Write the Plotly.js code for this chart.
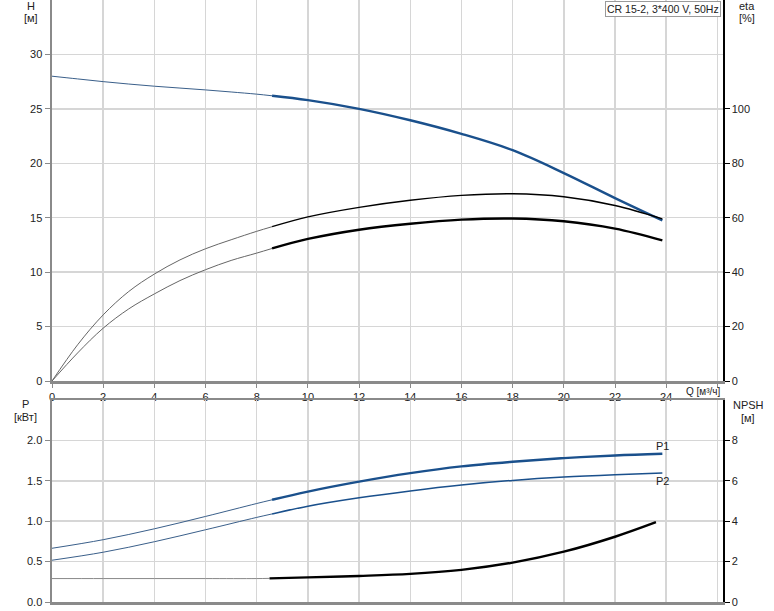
<!DOCTYPE html>
<html>
<head>
<meta charset="utf-8">
<script src="https://cdn.plot.ly/plotly-3.0.1.min.js"></script>
<style>html,body{margin:0;padding:0;background:#fff}#chart{width:774px;height:611px}</style>
</head>
<body>
<div id="chart"></div>
<script>
// ---- data ----
const qTop = [0, 1, 2, 3, 4, 5, 6, 7, 8, 8.6, 10, 12, 14, 16, 18, 20, 22, 23.85];
const headH = [28.0, 27.75, 27.5, 27.28, 27.08, 26.91, 26.74, 26.55, 26.35, 26.2, 25.8, 25.0, 23.95, 22.7, 21.2, 19.1, 16.8, 14.75];
const eta1 = [0, 13.3, 24.3, 32.9, 39.3, 44.5, 48.6, 51.9, 55.0, 56.7, 60.3, 63.8, 66.4, 68.2, 68.8, 67.7, 64.5, 59.6];
const eta2 = [0, 10.3, 19.4, 26.5, 32.0, 36.9, 40.9, 44.3, 47.0, 48.7, 52.2, 55.6, 57.8, 59.3, 59.7, 58.7, 56.0, 51.7];

const qPow = [0, 2, 4, 6, 8, 8.6, 10, 12, 14, 16, 18, 20, 22, 23.85];
const powP1 = [0.665, 0.771, 0.906, 1.059, 1.219, 1.265, 1.367, 1.49, 1.595, 1.679, 1.736, 1.781, 1.814, 1.835];
const powP2 = [0.517, 0.616, 0.746, 0.894, 1.047, 1.09, 1.186, 1.29, 1.375, 1.448, 1.505, 1.547, 1.576, 1.596];

const qNpsh = [0, 2, 4, 6, 8, 8.5, 10, 12, 14, 16, 18, 20, 22, 23.6];
const npsh = [1.16, 1.16, 1.16, 1.16, 1.16, 1.17, 1.22, 1.29, 1.39, 1.59, 1.95, 2.49, 3.23, 3.95];

const xTicks = [0, 2, 4, 6, 8, 10, 12, 14, 16, 18, 20, 22, 24, 26];
const xTickText = ['0','2','4','6','8','10','12','14','16','18','20','22','24',''];
const hTicks = [0, 5, 10, 15, 20, 25, 30];
const etaTicks = [0, 20, 40, 60, 80, 100];
const pTicks = [0, 0.5, 1.0, 1.5, 2.0];
const npshTicks = [0, 2, 4, 6, 8];
const chartTitle = 'CR 15-2, 3*400 V, 50Hz';

// ---- helpers ----
function seg(xs, ys, lo, hi) {
  const x = [], y = [];
  xs.forEach((v, i) => { if (v >= lo && v <= hi) { x.push(v); y.push(ys[i]); } });
  return {x, y};
}
function line(xs, ys, lo, hi, color, width, xa, ya) {
  const s = seg(xs, ys, lo, hi);
  return {x: s.x, y: s.y, xaxis: xa, yaxis: ya, mode: 'lines', type: 'scatter',
    line: {color: color, width: width, shape: 'spline', smoothing: 1.0}, hoverinfo: 'skip', showlegend: false};
}
const BLUE = '#1a508c', THINBLUE = '#3a5f8a', BLACK = '#000000', THIN = '#666666';
const traces = [
  line(qTop, headH, 0, 8.6, THINBLUE, 1, 'x', 'y'),
  line(qTop, headH, 8.6, 30, BLUE, 2.4, 'x', 'y'),
  line(qTop, eta1, 0, 8.6, THIN, 1, 'x', 'y2'),
  line(qTop, eta1, 8.6, 30, BLACK, 1.4, 'x', 'y2'),
  line(qTop, eta2, 0, 8.6, THIN, 1, 'x', 'y2'),
  line(qTop, eta2, 8.6, 30, BLACK, 2.4, 'x', 'y2'),
  line(qPow, powP1, 0, 8.6, THINBLUE, 1, 'x2', 'y3'),
  line(qPow, powP1, 8.6, 30, BLUE, 2.4, 'x2', 'y3'),
  line(qPow, powP2, 0, 8.6, THINBLUE, 1, 'x2', 'y3'),
  line(qPow, powP2, 8.6, 30, BLUE, 1.5, 'x2', 'y3'),
  line(qNpsh, npsh, 0, 8.5, '#888888', 1, 'x2', 'y4'),
  line(qNpsh, npsh, 8.5, 30, BLACK, 2.4, 'x2', 'y4')
];

// pixel -> paper conversion (plot area 52..723 x 0..602)
const L = 52, R = 723, T = 0, B = 602;
const px = v => (v - L) / (R - L);
const py = v => (B - v) / (B - T);

const FONT = {family: 'Liberation Sans, Arial, sans-serif', size: 11, color: '#222'};
const SMALL = {family: 'Liberation Sans, Arial, sans-serif', size: 10.5, color: '#222'};
const GRID = '#d6d6d6';
function ann(text, x, y, extra) {
  return Object.assign({text: text, xref: 'paper', yref: 'paper', x: px(x), y: py(y),
    showarrow: false, font: FONT, xanchor: 'center', yanchor: 'middle'}, extra || {});
}

const layout = {
  width: 774, height: 611,
  margin: {l: L, r: 774 - R, t: T, b: 611 - B, pad: 0},
  paper_bgcolor: '#fff', plot_bgcolor: '#fff',
  font: FONT, showlegend: false,
  xaxis: {domain: [0, 1], anchor: 'y', range: [0, 26.22], tickvals: xTicks, ticktext: xTickText,
    showgrid: true, gridcolor: GRID, gridwidth: 1.5, zeroline: false,
    showline: true, linecolor: '#8a8a8a', linewidth: 2.5, ticks: 'outside', ticklen: 4, tickcolor: '#8a8a8a',
    tickfont: FONT},
  yaxis: {domain: [py(381), 1], anchor: 'x', range: [0, 35], tickvals: hTicks,
    showgrid: true, gridcolor: GRID, gridwidth: 1.5, zeroline: false,
    showline: true, linecolor: '#8a8a8a', linewidth: 2.5, ticks: 'outside', ticklen: 5, tickcolor: '#8a8a8a',
    tickfont: FONT},
  yaxis2: {overlaying: 'y', side: 'right', anchor: 'x', range: [0, 140], tickvals: etaTicks,
    showgrid: false, zeroline: false, showline: true, linecolor: '#000', linewidth: 1.5,
    ticks: 'outside', ticklen: 5, tickcolor: '#000', tickfont: FONT},
  xaxis2: {domain: [0, 1], anchor: 'y3', range: [0, 26.22], tickvals: xTicks, showticklabels: false,
    showgrid: true, gridcolor: GRID, gridwidth: 1.5, zeroline: false,
    showline: true, mirror: true, linecolor: '#8a8a8a', linewidth: 2.5, ticks: ''},
  yaxis3: {domain: [0, py(400)], anchor: 'x2', range: [0, 2.5], tickvals: pTicks, tickformat: '.1f',
    showgrid: true, gridcolor: GRID, gridwidth: 1.5, zeroline: false,
    showline: true, linecolor: '#8a8a8a', linewidth: 2.5, ticks: 'outside', ticklen: 5, tickcolor: '#8a8a8a',
    tickfont: FONT},
  yaxis4: {overlaying: 'y3', side: 'right', anchor: 'x2', range: [0, 10], tickvals: npshTicks,
    showgrid: false, zeroline: false, showline: true, linecolor: '#000', linewidth: 1.5,
    ticks: 'outside', ticklen: 5, tickcolor: '#000', tickfont: FONT},
  annotations: [
    ann('H', 31, 6), ann('[м]', 31, 18),
    ann('eta', 747, 6), ann('[%]', 747, 18),
    ann('P', 25, 404), ann('[кВт]', 25, 417),
    ann('NPSH', 748, 405), ann('[м]', 748, 418),
    ann('Q [м³/ч]', 703, 391, {font: {family: SMALL.family, size: 10, color: '#222'}}),
    ann('P1', 662, 446), ann('P2', 662, 481),
    ann(chartTitle, 721, 1, {xanchor: 'right', yanchor: 'top', bordercolor: '#9a9a9a', borderwidth: 1,
      bgcolor: '#fff', borderpad: 1, font: SMALL})
  ]
};

Plotly.newPlot('chart', traces, layout, {displayModeBar: false, staticPlot: true});
</script>
</body>
</html>
